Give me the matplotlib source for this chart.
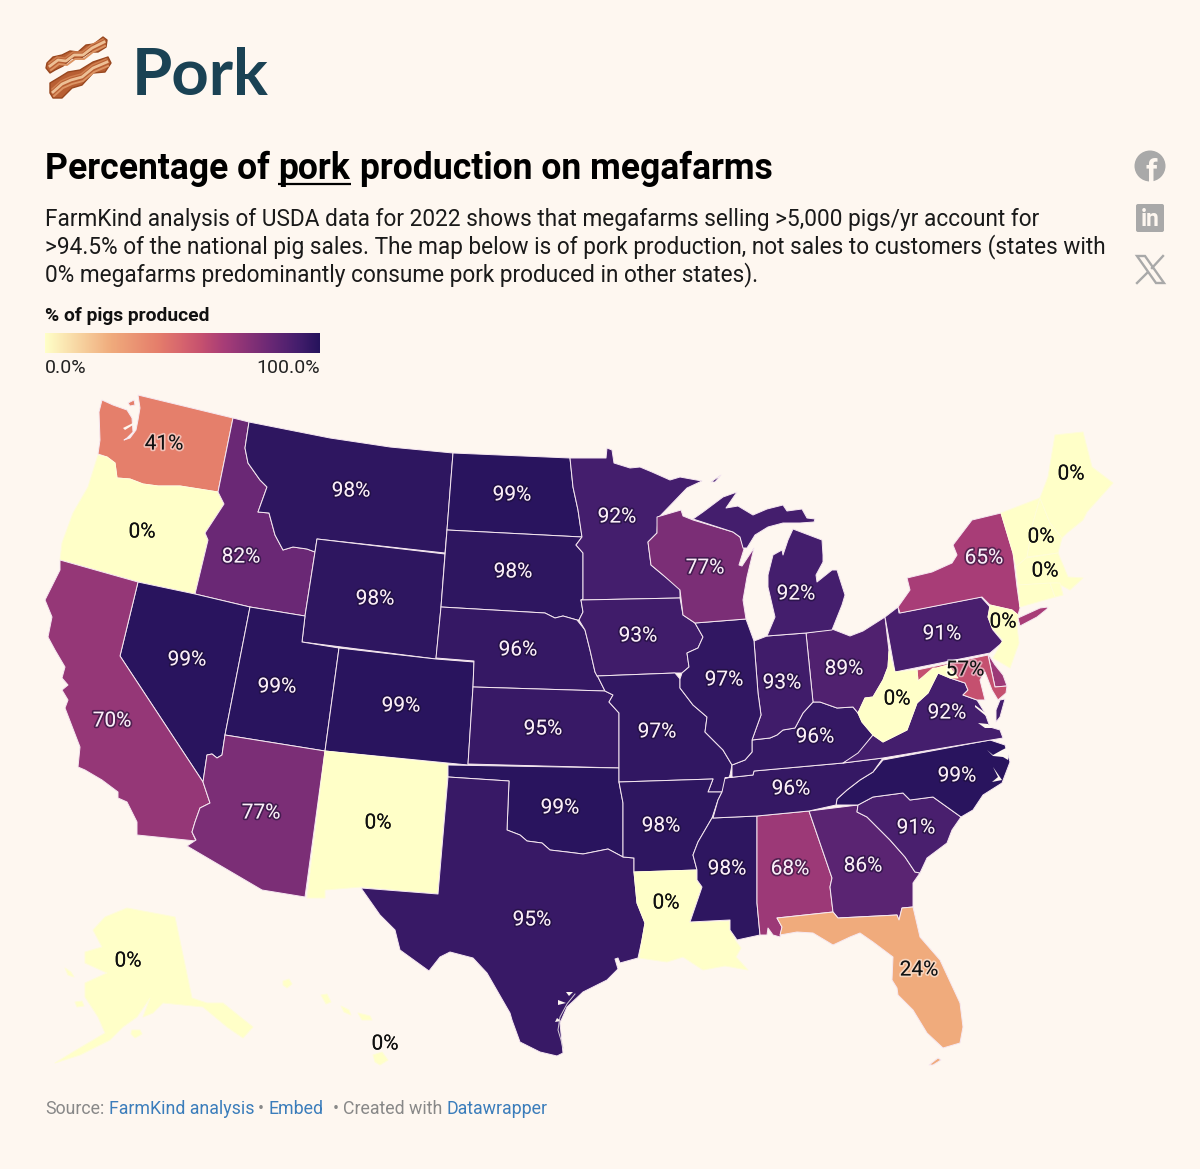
import matplotlib
matplotlib.use('Agg')
import matplotlib.pyplot as plt
import matplotlib.patheffects as pe
import numpy as np
from matplotlib.colors import LinearSegmentedColormap
from matplotlib.patches import Circle, FancyBboxPatch, Polygon

BG = '#fef7f0'
plt.rcParams['font.family'] = ['Roboto', 'DejaVu Sans']

# state outlines (map units = pixels of the picture)
WA = [(138,395),(233,418),(218,492),(180,486),(158,486),(143,484),(130,479),(117,478),(115,463),(107,457),(98,454),(100,440),(99,412),(102,400),(113,405),(127,410),(132,418),(133,432),(127,438),(124,440),(130,438),(136,430),(138,420),(140,408)]
WA_ISLE = [(128,403),(134,400),(135,405),(130,406)]
OR = [(98,455),(107,457),(115,463),(117,478),(130,479),(143,484),(158,486),(180,486),(218,492),(224,504),(217,515),(205,533),(208,540),(195,594),(138,582),(60,560),(62,543),(73,513),(88,487)]
ID = [(233,418),(249,422),(245,448),(248,463),(260,480),(267,487),(258,512),(269,513),(275,535),(283,550),(293,547),(307,549),(315,552),(305,616),(250,607),(195,594),(208,540),(205,533),(224,504),(218,492)]
MT = [(249,422),(330,438),(390,447),(453,453),(447,530),(445,553),(317,539),(315,552),(307,549),(293,547),(283,550),(275,535),(269,513),(258,512),(267,487),(260,480),(248,463),(245,448)]
WY = [(317,539),(445,554),(441,607),(436,659),(302,642),(305,616),(315,552)]
NV = [(138,582),(195,594),(250,607),(225,735),(222,755),(217,758),(212,754),(207,755),(203,782),(120,656)]
UT = [(250,607),(305,616),(302,642),(339,648),(325,751),(225,735)]
CO = [(339,648),(436,659),(474,662),(473,687),(468,765),(325,751)]
CA = [(60,560),(138,582),(120,656),(203,782),(210,803),(200,808),(195,822),(192,832),(196,841),(137,835),(137,822),(127,802),(118,798),(118,792),(102,780),(85,770),(78,767),(80,747),(65,708),(68,700),(62,690),(68,685),(62,678),(65,667),(55,650),(48,637),(52,617),(45,600),(60,570)]
AZ = [(225,735),(325,751),(305,897),(262,890),(187,846),(196,840),(192,832),(195,822),(200,808),(210,803),(203,782),(207,755),(212,754),(217,758),(222,755)]
NM = [(325,751),(448,764),(438,894),(361,887),(325,890),(325,898),(307,898)]
ND = [(453,453),(570,458),(573,487),(578,510),(582,537),(447,530)]
SD = [(447,530),(582,537),(576,545),(583,553),(583,599),(581,600),(583,612),(579,620),(577,620),(563,616),(555,618),(545,613),(441,607)]
NE = [(441,607),(545,613),(555,618),(563,616),(577,620),(585,630),(590,650),(595,672),(598,677),(605,691),(473,687),(474,661),(436,658)]
KS = [(473,687),(605,691),(613,695),(609,702),(619,713),(619,768),(468,764)]
OK = [(448,765),(619,768),(619,782),(623,803),(623,857),(608,849),(583,854),(567,852),(550,850),(542,843),(527,841),(520,835),(507,830),(509,781),(448,777)]
TX = [(448,777),(509,781),(507,830),(520,835),(527,841),(542,843),(550,850),(567,852),(583,854),(608,849),(623,857),(634,858),(634,872),(637,903),(645,923),(642,940),(638,958),(620,963),(618,958),(615,959),(618,969),(607,980),(583,992),(567,1007),(560,1023),(563,1053),(557,1056),(540,1052),(520,1042),(512,1020),(510,1013),(487,973),(473,958),(450,952),(440,957),(429,971),(400,950),(395,930),(380,915),(361,888),(438,894)]
MN = [(570,458),(606,458),(607,448),(612,450),(614,463),(630,468),(640,467),(652,472),(670,480),(680,477),(702,481),(687,488),(660,516),(658,517),(657,533),(648,542),(651,565),(663,575),(680,588),(680,598),(581,600),(583,599),(583,553),(576,545),(582,537),(578,510),(573,487)]
IA = [(581,600),(680,598),(683,615),(695,623),(703,637),(698,648),(687,653),(689,667),(682,673),(675,673),(597,676),(595,672),(590,650),(585,630),(579,620),(583,612)]
MO = [(597,676),(675,673),(680,679),(680,688),(693,705),(707,717),(705,732),(723,750),(732,765),(730,775),(722,792),(708,792),(713,779),(619,782),(619,713),(609,702),(613,695),(605,691),(598,677)]
AR = [(619,782),(713,779),(708,792),(722,792),(718,800),(712,818),(698,842),(693,855),(697,870),(634,872),(634,858),(623,857),(623,803)]
LA = [(634,872),(697,870),(697,880),(702,887),(690,922),(730,921),(735,940),(741,948),(736,957),(748,970),(725,966),(703,970),(683,957),(667,962),(639,958),(642,940),(645,923),(637,903)]
MS = [(713,818),(757,816),(757,903),(760,935),(737,940),(730,930),(730,920),(690,922),(702,887),(697,880),(697,870),(693,855),(698,842),(712,818)]
AL = [(757,816),(809,811),(832,878),(830,887),(833,912),(777,918),(782,927),(780,937),(773,935),(768,928),(767,935),(760,935),(757,903)]
GA = [(809,811),(858,805),(857,812),(867,817),(890,840),(905,857),(915,872),(920,873),(913,883),(913,907),(902,908),(899,920),(897,915),(838,918),(833,912),(830,887),(832,878)]
FL = [(777,918),(833,912),(838,918),(897,915),(899,920),(902,908),(913,907),(920,937),(940,960),(960,1003),(963,1027),(960,1043),(943,1048),(927,1033),(913,1010),(898,995),(897,988),(892,980),(893,957),(873,942),(860,933),(850,937),(833,945),(813,933),(797,932),(780,935),(782,927)]
FL_KEYS = [(929,1065),(938,1058),(941,1060),(933,1065)]
SC = [(858,805),(873,797),(903,793),(910,800),(933,797),(961,817),(952,830),(947,843),(927,858),(920,873),(915,872),(905,857),(890,840),(867,817),(857,812)]
NC = [(836,805),(837,799),(847,790),(860,780),(873,772),(883,760),(990,740),(1005,745),(1010,762),(1002,783),(983,795),(973,810),(961,817),(933,797),(910,800),(903,793),(873,797),(858,805)]
TN = [(725,778),(753,775),(754,771),(843,763),(883,758),(873,772),(860,780),(847,790),(837,799),(836,805),(809,811),(757,816),(713,818),(718,800),(722,792)]
KY = [(725,778),(732,777),(732,765),(745,760),(752,752),(752,740),(770,738),(777,735),(783,730),(795,728),(803,713),(813,702),(820,702),(837,708),(853,707),(858,713),(862,722),(873,735),(863,748),(857,757),(843,763),(754,771),(753,775)]
VA = [(843,763),(858,753),(873,735),(883,742),(907,730),(917,703),(928,693),(938,673),(950,678),(965,683),(968,690),(963,695),(977,700),(985,713),(990,727),(1000,730),(1003,738),(883,758)]
VA_SHORE = [(1000,700),(1005,699),(1000,717),(996,722),(996,710)]
WV = [(889,651),(891,660),(895,672),(917,670),(918,681),(933,668),(937,668),(948,665),(958,678),(950,678),(938,673),(928,693),(917,703),(907,730),(883,742),(873,735),(862,722),(858,713),(865,698),(873,697),(883,680),(888,667)]
OH = [(885,617),(889,651),(888,667),(883,680),(873,697),(865,698),(858,713),(853,707),(837,708),(820,702),(813,702),(806,633),(832,629),(850,636),(863,631)]
IN = [(754,641),(767,636),(806,633),(813,702),(803,713),(795,728),(783,730),(777,735),(770,738),(752,740),(761,715),(758,693)]
IL = [(695,623),(746,619),(754,641),(758,693),(761,715),(752,740),(752,752),(745,760),(732,765),(723,750),(705,732),(707,717),(693,705),(680,688),(680,679),(682,673),(689,667),(687,653),(698,648),(703,637)]
WI = [(657,517),(681,510),(683,516),(693,520),(733,532),(740,537),(744,549),(739,565),(742,566),(754,548),(747,577),(743,600),(746,619),(695,623),(683,615),(680,590),(663,575),(651,565),(648,542),(657,533)]
MI_UP = [(693,519),(703,512),(723,497),(737,492),(726,508),(738,506),(753,515),(767,509),(783,505),(787,511),(802,509),(807,518),(815,519),(814,522),(800,523),(783,523),(768,527),(755,535),(747,548),(743,548),(740,537),(733,532)]
MI_LOW = [(793,529),(822,540),(823,555),(823,562),(816,575),(817,582),(832,570),(837,570),(845,595),(842,605),(832,630),(806,633),(767,636),(775,617),(768,587),(768,575),(773,555),(782,550),(783,555),(788,540)]
MI_ISLE = [(711,482),(721,475),(715,482)]
PA = [(885,617),(898,607),(899,613),(981,597),(990,607),(988,617),(993,630),(1003,642),(990,653),(895,672)]
NY = [(898,607),(910,590),(907,578),(932,572),(952,563),(957,555),(953,545),(972,520),(1001,513),(1013,553),(1017,587),(1020,608),(1018,615),(1012,610),(990,605),(982,597),(900,613)]
NY_LI = [(1018,618),(1040,608),(1048,607),(1047,609),(1037,617),(1020,626)]
NJ = [(990,605),(1012,610),(1018,615),(1017,627),(1019,643),(1010,668),(993,658),(1003,640),(992,628),(988,617)]
DE = [(988,654),(995,665),(1003,675),(1007,686),(995,687)]
MD = [(917,670),(988,655),(995,687),(1007,686),(1006,693),(998,700),(992,690),(985,672),(980,680),(985,700),(977,700),(963,695),(968,690),(965,683),(950,678),(948,665),(937,668),(918,681)]
VT = [(1001,513),(1040,498),(1033,523),(1027,558),(1016,567),(1013,553)]
NH = [(1040,498),(1050,523),(1062,538),(1058,553),(1027,557),(1033,523)]
ME = [(1055,435),(1083,432),(1092,467),(1113,483),(1087,512),(1083,520),(1067,533),(1062,538),(1050,523),(1040,498),(1048,477)]
MA = [(1026,558),(1058,553),(1068,577),(1083,578),(1070,590),(1057,583),(1018,585),(1016,567)]
CT = [(1018,585),(1050,583),(1055,597),(1020,607)]
RI = [(1050,583),(1060,583),(1063,595),(1055,597)]
AK = [(127,908),(175,917),(192,998),(207,1003),(223,1003),(253,1027),(243,1038),(227,1027),(203,1007),(163,1003),(153,1013),(143,1017),(150,998),(137,1017),(123,1027),(110,1040),(80,1055),(55,1063),(73,1052),(105,1033),(98,1017),(85,997),(85,983),(107,973),(85,963),(85,952),(102,947),(93,930),(105,917)]
AK_KODIAK = [(132,1030),(140,1030),(142,1034),(135,1038),(131,1034)]
AK_NUNIVAK = [(65,968),(71,972),(74,977),(68,975)]
AK_STMATT = [(75,1002),(82,1001),(84,1006),(77,1007)]
HI_KAUAI = [(283,981),(289,979),(292,984),(287,988),(283,985)]
HI_OAHU = [(321,995),(327,994),(331,1002),(326,1004)]
HI_MOLOKAI = [(341,1006),(349,1010),(351,1015),(344,1012)]
HI_MAUI = [(358,1013),(370,1016),(372,1020),(362,1020)]
HI_BIG = [(373,1055),(382,1052),(388,1060),(380,1065),(375,1062)]

# one row per state, in the order they get drawn
STATE_NAMES = ['WA','OR','ID','MT','WY','NV','UT','CO','CA','AZ','NM','ND','SD','NE','KS','OK','TX','MN','IA','MO','AR','LA','MS','AL','GA','FL','SC','NC','TN','KY','VA','OH','IN','IL','WI','MI','PA','NY','DE','MD','WV','NJ','VT','NH','ME','MA','CT','RI','AK','HI']
STATE_PCT = [41,0,82,98,98,99,99,99,70,77,0,99,98,96,95,99,95,92,93,97,98,0,98,68,86,24,91,99,96,96,92,89,93,97,77,92,91,65,68,57,0,0,0,0,0,0,0,0,0,0]
STATE_SHAPES = [[WA,WA_ISLE],[OR],[ID],[MT],[WY],[NV],[UT],[CO],[CA],[AZ],[NM],[ND],[SD],[NE],[KS],[OK],[TX],[MN],[IA],[MO],[AR],[LA],[MS],[AL],[GA],[FL,FL_KEYS],[SC],[NC],[TN],[KY],[VA,VA_SHORE],[OH],[IN],[IL],[WI],[MI_UP,MI_LOW,MI_ISLE],[PA],[NY,NY_LI],[DE],[MD],[WV],[NJ],[VT],[NH],[ME],[MA],[CT],[RI],[AK,AK_KODIAK,AK_NUNIVAK,AK_STMATT],[HI_KAUAI,HI_OAHU,HI_MOLOKAI,HI_MAUI,HI_BIG]]

# water cut out of the coast
INLETS = [[(987,750),(993,755),(1002,750),(1008,747),(1008,760),(1003,757),(993,756)],
          [(993,767),(1002,780),(992,782),(998,777)],
          [(975,705),(987,714),(986,716),(975,707)],
          [(978,723),(988,724),(993,728),(985,728)],
          [(123,428),(133,423),(133,425),(125,430)],
          [(557,1018),(561,1021),(555,1022)],
          [(558,1000),(566,1003),(558,1005)],
          [(566,992),(573,992),(569,996)]]
TX_BARRIER_X = [575,567,560,558,561,563]
TX_BARRIER_Y = [994,1004,1017,1030,1040,1048]

LABEL_NAMES = ['WA','OR','ID','MT','ND','MN','ME','NH','MA','NY','WI','MI','WY','SD','IA','PA','NJ','NV','UT','CO','NE','OH','IN','IL','MD','WV','VA','KY','CA','KS','MO','TN','NC','OK','AZ','NM','AR','SC','MS','AL','GA','LA','TX','FL','AK','HI']
LABEL_X = [164,142,241,351,512,617,1071,1041,1045,984,705,796,375,513,638,942,1003,187,277,401,518,844,782,724,965,897,947,815,112,543,657,791,957,560,261,378,661,916,727,790,863,666,532,919,128,385]
LABEL_Y = [444,532,557,491,495,517,474,537,571,558,568,594,599,572,636,634,622,660,687,706,650,669,683,680,670,699,713,737,721,729,732,789,776,808,813,823,826,828,869,869,866,903,920,970,961,1044]

SCALE_POS = [0,24,41,50,57,65,70,82,92,100]
SCALE_COL = ['#ffffc8','#f0ab7c','#e57e6b','#d6646e','#c5506f','#a83d77','#963777','#6a2875','#451e6d','#26135c']

SOURCE_X = [45,109,258,269,333,343,447]
SOURCE_TXT = ['Source:','FarmKind analysis','•','Embed','•','Created with','Datawrapper']
SOURCE_COL = ['#888888','#3b7dbb','#888888','#3b7dbb','#888888','#888888','#3b7dbb']

SUB_LINES = ['FarmKind analysis of USDA data for 2022 shows that megafarms selling >5,000 pigs/yr account for',
             '>94.5% of the national pig sales. The map below is of pork production, not sales to customers (states with',
             '0% megafarms predominantly consume pork produced in other states).']

# bacon emoji, two strips and the fat running through them
BACON_1 = [(47,63),(53,57),(62,55),(70,51),(78,52),(86,45),(94,44),(103,37),(107,40),(106,47),(98,52),(90,52),(80,59),(72,58),(63,66),(55,70),(50,73),(46,68)]
BACON_2 = [(50,83),(60,77),(68,72),(80,70),(93,62),(108,57),(111,63),(105,72),(93,73),(82,85),(72,88),(62,98),(53,98),(50,93)]
FAT_1_X = [50,58,66,74,83,92,104]
FAT_1_Y = [66,60,61,55,55,48,42]
FAT_2_X = [53,62,71,82,93,107]
FAT_2_Y = [92,84,80,77,68,62]

cmap = LinearSegmentedColormap.from_list('pork', [(p / 100, c) for p, c in zip(SCALE_POS, SCALE_COL)])

fig = plt.figure(figsize=(12, 11.69), dpi=100, facecolor=BG)
ax = fig.add_axes([0, 0, 1, 1])
ax.set_xlim(0, 1200)
ax.set_ylim(1169, 0)
ax.axis('off')

for strip, fx, fy in [(BACON_1, FAT_1_X, FAT_1_Y), (BACON_2, FAT_2_X, FAT_2_Y)]:
    fx, fy = np.array(fx), np.array(fy)
    ax.add_patch(Polygon(strip, closed=True, fc='#b85f33', ec='#98471f', lw=1.0, joinstyle='round'))
    ax.plot(fx, fy, color='#edc096', lw=2.0, solid_joinstyle='round')
    ax.plot(fx + 1, fy + 4, color='#dc9464', lw=1.4, solid_joinstyle='round')
    ax.plot(fx - 1, fy - 3, color='#d08050', lw=1.0, solid_joinstyle='round')

ax.text(132, 95, 'Pork', fontsize=47, color='#1a4254', family='Lato', fontweight='bold', va='baseline')

ax.text(45, 179, 'Percentage of', fontsize=25.6, fontweight='bold', color='#000000', va='baseline')
ax.text(278, 179, 'pork', fontsize=25.6, fontweight='bold', color='#000000', va='baseline')
ax.text(360, 179, 'production on megafarms', fontsize=25.6, fontweight='bold', color='#000000', va='baseline')
ax.plot([278, 351], [184, 184], color='#000000', lw=1.6, solid_capstyle='butt')

for line, y in zip(SUB_LINES, [226, 253, 281]):
    ax.text(45, y, line, fontsize=16.32, color='#1a1a1a', va='baseline')

ax.text(45, 321, '% of pigs produced', fontsize=13.9, fontweight='bold', color='#111111', va='baseline')
grad = np.linspace(0, 1, 256).reshape(1, -1)
ax.imshow(grad, cmap=cmap, extent=(45, 320, 353, 333), aspect='auto', zorder=2)
ax.set_xlim(0, 1200)
ax.set_ylim(1169, 0)
ax.text(45, 373, '0.0%', fontsize=14, color='#222222', va='baseline')
ax.text(320, 373, '100.0%', fontsize=14, color='#222222', va='baseline', ha='right')

# social icons
ICON = '#a9a9a9'
ax.add_patch(Circle((1150, 166), 15.5, color=ICON, lw=0))
ax.text(1151, 182, 'f', fontsize=23, fontweight='bold', color=BG, ha='center', va='baseline')
ax.add_patch(FancyBboxPatch((1138, 206), 24, 24, boxstyle='round,pad=2,rounding_size=2', color=ICON, lw=0))
ax.text(1150, 226, 'in', fontsize=16.5, fontweight='bold', color=BG, ha='center', va='baseline')
ax.add_patch(Polygon([(1137,256),(1145,256),(1164,283),(1156,283)], closed=True, fc='none', ec=ICON, lw=1.7))
ax.plot([1163, 1152], [256, 268], color=ICON, lw=1.7)
ax.plot([1147, 1137], [273, 283], color=ICON, lw=1.7)

# map
for name, pct, shapes in zip(STATE_NAMES, STATE_PCT, STATE_SHAPES):
    for shape in shapes:
        ax.add_patch(Polygon(shape, closed=True, fc=cmap(pct / 100), ec='#f6e8f1' if pct > 0 else '#fffdd8', lw=0.7, zorder=3, joinstyle='round'))
for shape in INLETS:
    ax.add_patch(Polygon(shape, closed=True, fc=BG, ec='none', zorder=4))
ax.plot(TX_BARRIER_X, TX_BARRIER_Y, color='#d8cfd8', lw=0.7, zorder=4)

for name, x, y in zip(LABEL_NAMES, LABEL_X, LABEL_Y):
    pct = STATE_PCT[STATE_NAMES.index(name)]
    if pct <= 57:
        col, halo = '#111111', (1, 1, 1, 0.5) if pct > 0 else (1, 1, 1, 0.0)
    else:
        col, halo = '#fbeef8', (0.1, 0.05, 0.2, 0.55)
    t = ax.text(x, y, f'{pct}%', fontsize=15, color=col, ha='center', va='center', zorder=6)
    t.set_path_effects([pe.withStroke(linewidth=2.5, foreground=halo)])

for x, txt, col in zip(SOURCE_X, SOURCE_TXT, SOURCE_COL):
    ax.text(x, 1114, txt, fontsize=12.8, color=col, va='baseline')

fig.savefig('out.png', dpi=100, facecolor=BG)
